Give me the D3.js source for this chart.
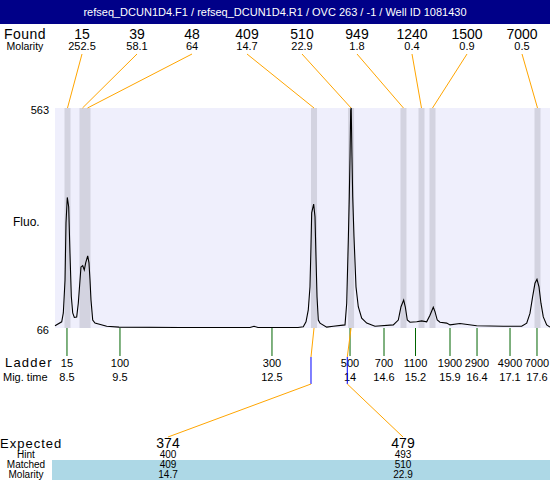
<!DOCTYPE html>
<html>
<head>
<meta charset="utf-8">
<script src="https://cdn.jsdelivr.net/npm/d3@7"></script>
<style>
  body { margin: 0; background: #fff; }
  svg { display: block; font-family: "Liberation Sans", Arial, sans-serif; }
</style>
</head>
<body>
<svg id="chart"></svg>
<script>
const title = 'refseq_DCUN1D4.F1 / refseq_DCUN1D4.R1 / OVC 263 / -1 / Well ID 1081430'

// peaks found in the sample
const foundSize = [15, 39, 48, 409, 510, 949, 1240, 1500, 7000]
const foundMolarity = ['252.5', '58.1', '64', '14.7', '22.9', '1.8', '0.4', '0.9', '0.5']
const foundTime = [8.51, 8.8, 8.897, 13.283, 14.0, 15.015, 15.364, 15.577, 17.61]

// ladder
const ladderSize = [15, 100, 300, 500, 700, 1100, 1900, 2900, 4900, 7000]
const ladderTime = [8.5, 9.526, 12.469, 13.98, 14.638, 15.248, 15.916, 16.439, 17.078, 17.6]
const ladderTimeLabel = ['8.5', '9.5', '12.5', '14', '14.6', '15.2', '15.9', '16.4', '17.1', '17.6']

// expected table
const expected = [374, 479]
const hint = [400, 493]
const matched = [409, 510]
const matchedMolarity = ['14.7', '22.9']

const fluoRange = [66, 563]
const timeRange = [8.268, 17.852]

// electropherogram trace (migration time, fluorescence)
const traceTime = [8.268, 8.398, 8.429, 8.462, 8.481, 8.506, 8.533, 8.558, 8.584, 8.611,
  8.642, 8.688, 8.719, 8.752, 8.771, 8.804, 8.835, 8.862, 8.901, 8.926,
  8.946, 8.965, 8.998, 9.042, 9.269, 9.507, 10.688, 11.85, 12.043, 12.121,
  12.198, 12.818, 12.973, 13.075, 13.128, 13.172, 13.205, 13.224, 13.238, 13.276,
  13.302, 13.321, 13.341, 13.366, 13.399, 13.528, 13.656, 13.883, 13.916, 13.947,
  13.966, 13.98, 13.993, 14.003, 14.018, 14.032, 14.057, 14.096, 14.14, 14.206,
  14.303, 14.463, 14.818, 14.915, 14.967, 15.019, 15.05, 15.089, 15.141, 15.271,
  15.368, 15.464, 15.528, 15.592, 15.625, 15.669, 15.722, 15.852, 15.916, 16.109,
  16.432, 16.947, 17.303, 17.401, 17.464, 17.516, 17.561, 17.6, 17.639, 17.677,
  17.722, 17.788, 17.852]
const traceFluo = [71, 80, 100, 174, 303, 361, 340, 235, 137, 100,
  90, 91, 122, 174, 204, 207, 197, 213, 229, 213,
  174, 129, 84, 77, 70, 68, 67, 67, 67, 70,
  67, 67, 67, 69, 80, 107, 159, 250, 326, 346,
  317, 227, 137, 84, 77, 68, 70, 73, 122, 265,
  363, 453, 558, 563, 453, 363, 272, 159, 114, 88,
  77, 70, 73, 84, 114, 129, 114, 84, 79, 80,
  82, 80, 95, 113, 103, 84, 79, 77, 73, 76,
  71, 70, 70, 77, 99, 137, 167, 176, 159, 122,
  91, 73, 68]

const W = 550, H = 480
const plotTop = 108, plotBottom = 328, plotLeft = 55

const svg = d3.select('#chart').attr('width', W).attr('height', H)

const x = d3.scaleLinear().domain(timeRange).range([plotLeft, W])
const y = d3.scaleLinear().domain(fluoRange).range([plotBottom, plotTop])
// size -> migration time, through the ladder
const sizeToTime = d3.scaleLinear().domain(ladderSize).range(ladderTime)
const foundX = d3.scalePoint().domain(d3.range(foundSize.length)).range([82, 522])
const colX = d3.scalePoint().domain(d3.range(expected.length)).range([168, 403])

// header
svg.append('rect').attr('x', 0).attr('y', 0).attr('width', W).attr('height', 24).attr('fill', '#000088')
svg.append('text').attr('x', W / 2).attr('y', 16).attr('text-anchor', 'middle')
  .attr('fill', '#fff').attr('font-size', 11).text(title)

// found row
svg.append('text').attr('x', 25).attr('y', 39).attr('text-anchor', 'middle')
  .attr('font-size', 14).attr('letter-spacing', 0.5).text('Found')
svg.append('text').attr('x', 25).attr('y', 50).attr('text-anchor', 'middle')
  .attr('font-size', 10.5).text('Molarity')

const found = svg.append('g')
found.selectAll('.fs').data(foundSize).join('text')
  .attr('x', (d, i) => foundX(i)).attr('y', 39).attr('text-anchor', 'middle')
  .attr('font-size', 14).text(d => d)
found.selectAll('.fm').data(foundMolarity).join('text')
  .attr('x', (d, i) => foundX(i)).attr('y', 50).attr('text-anchor', 'middle')
  .attr('font-size', 11).text(d => d)

// plot background + peak bands
svg.append('rect').attr('x', plotLeft).attr('y', plotTop)
  .attr('width', W - plotLeft).attr('height', plotBottom - plotTop).attr('fill', '#efeffc')
svg.append('g').selectAll('rect').data(foundTime).join('rect')
  .attr('x', d => x(d) - 3).attr('y', plotTop).attr('width', 6)
  .attr('height', plotBottom - plotTop).attr('fill', '#d3d3e0')

// orange connectors from labels to peaks
svg.append('g').selectAll('line').data(foundTime).join('line')
  .attr('x1', (d, i) => foundX(i)).attr('y1', 54)
  .attr('x2', d => x(d)).attr('y2', plotTop)
  .attr('stroke', '#ffa500').attr('stroke-width', 1)

// y labels
svg.append('text').attr('x', 49).attr('y', 114).attr('text-anchor', 'end').attr('font-size', 11).text(fluoRange[1])
svg.append('text').attr('x', 49).attr('y', 334).attr('text-anchor', 'end').attr('font-size', 11).text(fluoRange[0])
svg.append('text').attr('x', 13).attr('y', 226).attr('font-size', 12).text('Fluo.')

// trace
const line = d3.line().x(d => x(d[0])).y(d => y(d[1]))
svg.append('path').datum(d3.zip(traceTime, traceFluo))
  .attr('d', line).attr('fill', 'none').attr('stroke', '#000').attr('stroke-width', 1.1)

// ladder ticks
const ladder = svg.append('g')
ladder.selectAll('line').data(ladderTime).join('line')
  .attr('x1', d => x(d)).attr('x2', d => x(d)).attr('y1', plotBottom).attr('y2', 356)
  .attr('stroke', '#006400').attr('stroke-width', 1)
ladder.selectAll('.ls').data(ladderSize).join('text')
  .attr('x', (d, i) => x(ladderTime[i])).attr('y', 367).attr('text-anchor', 'middle')
  .attr('font-size', 11).text(d => d)
ladder.selectAll('.lt').data(ladderTimeLabel).join('text')
  .attr('x', (d, i) => x(ladderTime[i])).attr('y', 381).attr('text-anchor', 'middle')
  .attr('font-size', 11).text(d => d)
svg.append('text').attr('x', 5).attr('y', 367).attr('font-size', 13).attr('letter-spacing', 1.2).text('Ladder')
svg.append('text').attr('x', 3).attr('y', 381).attr('font-size', 11).text('Mig. time')

// matched peaks -> expected columns
matched.forEach((m, i) => {
  const px = x(foundTime[foundSize.indexOf(m)])
  const hx = x(sizeToTime(hint[i]))
  svg.append('line').attr('x1', px).attr('y1', plotBottom).attr('x2', hx).attr('y2', 357)
    .attr('stroke', '#ffa500')
  svg.append('line').attr('x1', hx).attr('y1', 357).attr('x2', hx).attr('y2', 384)
    .attr('stroke', '#0000ff')
  svg.append('line').attr('x1', hx).attr('y1', 384).attr('x2', colX(i)).attr('y2', 437)
    .attr('stroke', '#ffa500')
})

// expected table
svg.append('rect').attr('x', 52).attr('y', 460).attr('width', W - 52).attr('height', 20).attr('fill', '#add8e6')
const rows = [
  { label: 'Expected', vals: expected, y: 448, size: 13, ls: 1 },
  { label: 'Hint', vals: hint, y: 458, size: 10, ls: 0 },
  { label: 'Matched', vals: matched, y: 468, size: 10, ls: 0 },
  { label: 'Molarity', vals: matchedMolarity, y: 478, size: 10, ls: 0 }
]
rows.forEach(r => {
  svg.append('text').attr('x', r.label === 'Expected' ? 0 : 26).attr('y', r.y)
    .attr('text-anchor', r.label === 'Expected' ? 'start' : 'middle')
    .attr('font-size', r.size).attr('letter-spacing', r.ls).text(r.label)
  svg.append('g').selectAll('text').data(r.vals).join('text')
    .attr('x', (d, i) => colX(i)).attr('y', r.y).attr('text-anchor', 'middle')
    .attr('font-size', r.size === 13 ? 14 : r.size).text(d => d)
})
</script>
</body>
</html>
